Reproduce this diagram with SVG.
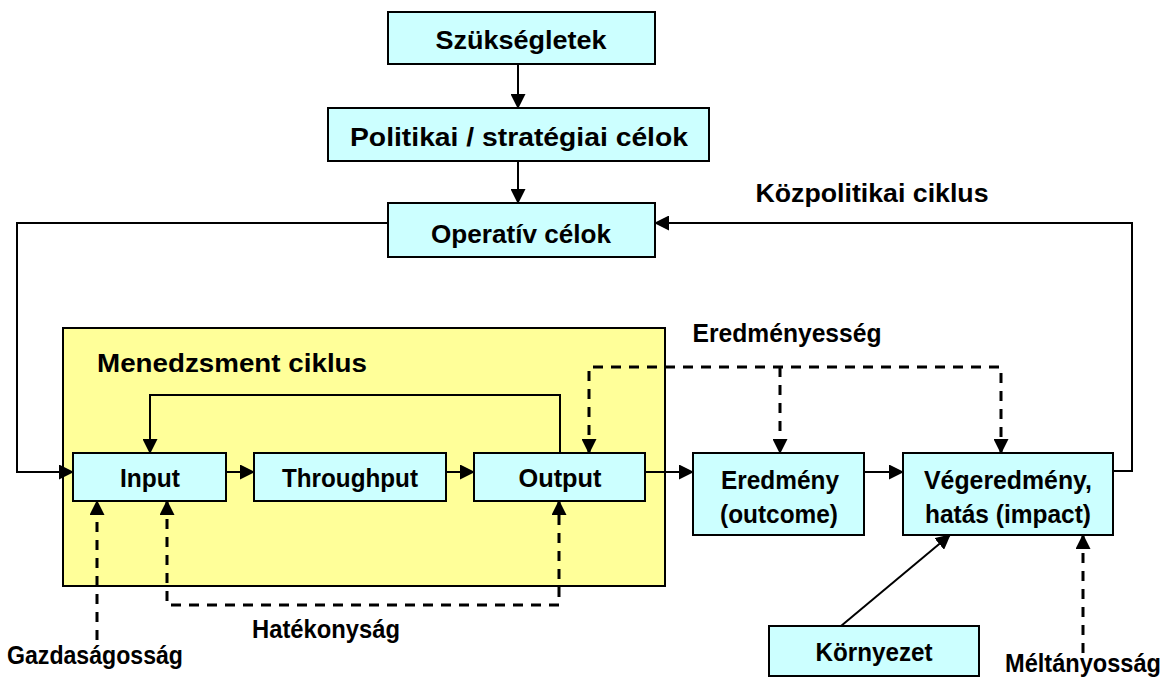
<svg xmlns="http://www.w3.org/2000/svg" width="1176" height="682" viewBox="0 0 1176 682">
<defs>
<style>
.box{fill:#ccffff;stroke:#000;stroke-width:2}
.t{font-family:"Liberation Sans",Arial,sans-serif;font-weight:bold;font-size:26px;fill:#000;text-anchor:middle}
.l{font-family:"Liberation Sans",Arial,sans-serif;font-weight:bold;font-size:26px;fill:#000;text-anchor:middle}
.c{fill:none;stroke:#000;stroke-width:2}
.d{fill:none;stroke:#000;stroke-width:3;stroke-dasharray:10,8}
</style>
<marker id="b" markerWidth="15" markerHeight="15" refX="14" refY="7.5" orient="auto-start-reverse" markerUnits="userSpaceOnUse" viewBox="0 0 15 15">
<path d="M0,0 L15,7.5 L0,15 z" fill="#000"/>
</marker>
</defs>
<rect id="menedzsment" x="63" y="328" width="602" height="258" fill="#ffff99" stroke="#000" stroke-width="2"/>
<text class="l" x="232" y="372" textLength="270" lengthAdjust="spacingAndGlyphs">Menedzsment ciklus</text>
<text class="l" x="872" y="202" textLength="233" lengthAdjust="spacingAndGlyphs">Közpolitikai ciklus</text>
<text class="l" x="787" y="342" textLength="189" lengthAdjust="spacingAndGlyphs">Eredményesség</text>
<text class="l" x="326" y="638" textLength="148" lengthAdjust="spacingAndGlyphs">Hatékonyság</text>
<text class="l" x="95" y="664" textLength="176" lengthAdjust="spacingAndGlyphs">Gazdaságosság</text>
<text class="l" x="1083" y="672" textLength="156" lengthAdjust="spacingAndGlyphs">Méltányosság</text>
<g id="connectors">
<path class="c" d="M518,64 V108" marker-end="url(#b)"/>
<path class="c" d="M518,161 V203" marker-end="url(#b)"/>
<path class="c" d="M388,223 H17 V472 H73" marker-end="url(#b)"/>
<path class="c" d="M1113,471 H1132 V223 H655" marker-end="url(#b)"/>
<path class="c" d="M560,453 V395 H150 V453" marker-end="url(#b)"/>
<path class="c" d="M226,472 H254" marker-end="url(#b)"/>
<path class="c" d="M446,472 H474" marker-end="url(#b)"/>
<path class="c" d="M645,472 H693" marker-end="url(#b)"/>
<path class="c" d="M864,472 H903" marker-end="url(#b)"/>
<path class="c" d="M841,626 L950,535" marker-end="url(#b)"/>
<path class="d" d="M589,453 V367 H1001 V453" marker-start="url(#b)" marker-end="url(#b)"/>
<path class="d" d="M780,367 V453" marker-end="url(#b)"/>
<path class="d" d="M167,501 V605 H559 V501" marker-start="url(#b)" marker-end="url(#b)"/>
<path class="d" d="M97,640 V501" marker-end="url(#b)"/>
<path class="d" d="M1083,653 V535" marker-end="url(#b)"/>
</g>
<g id="szuksegletek"><rect class="box" x="388" y="12" width="267" height="52"/><text class="t" x="521" y="49" textLength="171" lengthAdjust="spacingAndGlyphs">Szükségletek</text></g>
<g id="politikai"><rect class="box" x="328" y="108" width="381" height="53"/><text class="t" x="519" y="146" textLength="338" lengthAdjust="spacingAndGlyphs">Politikai / stratégiai célok</text></g>
<g id="operativ"><rect class="box" x="388" y="203" width="267" height="54"/><text class="t" x="521" y="243" textLength="180" lengthAdjust="spacingAndGlyphs">Operatív célok</text></g>
<g id="input"><rect class="box" x="73" y="453" width="153" height="48"/><text class="t" x="150" y="487" textLength="60" lengthAdjust="spacingAndGlyphs">Input</text></g>
<g id="throughput"><rect class="box" x="254" y="453" width="192" height="48"/><text class="t" x="350" y="487" textLength="136" lengthAdjust="spacingAndGlyphs">Throughput</text></g>
<g id="output"><rect class="box" x="474" y="453" width="171" height="48"/><text class="t" x="560" y="487" textLength="83" lengthAdjust="spacingAndGlyphs">Output</text></g>
<g id="eredmeny"><rect class="box" x="693" y="453" width="171" height="82"/><text class="t" x="780" y="489" textLength="118" lengthAdjust="spacingAndGlyphs">Eredmény</text><text class="t" x="779" y="523" textLength="118" lengthAdjust="spacingAndGlyphs">(outcome)</text></g>
<g id="vegeredmeny"><rect class="box" x="903" y="453" width="210" height="82"/><text class="t" x="1008" y="489" textLength="168" lengthAdjust="spacingAndGlyphs">Végeredmény,</text><text class="t" x="1008" y="523" textLength="166" lengthAdjust="spacingAndGlyphs">hatás (impact)</text></g>
<g id="kornyezet"><rect class="box" x="769" y="626" width="210" height="50"/><text class="t" x="874" y="661" textLength="117" lengthAdjust="spacingAndGlyphs">Környezet</text></g>
</svg>
